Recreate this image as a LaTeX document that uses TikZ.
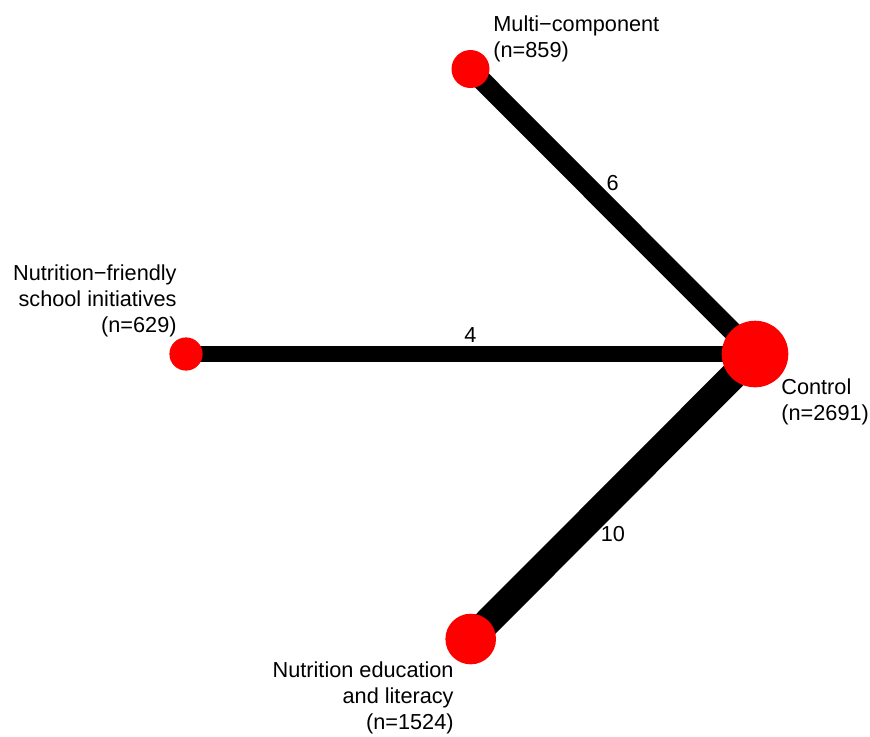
\documentclass[tikz,border=0pt]{standalone}
\usepackage{fontspec}
\setmainfont{Liberation Sans}
\usetikzlibrary{backgrounds}

\begin{document}
\begin{tikzpicture}[x=0.5pt,y=-0.5pt,
          trt/.style={circle,fill=red,inner sep=0pt},
          txt/.style={inner sep=0pt,font=\fontsize{10.85}{13}\selectfont},
          link/.style={line width=#1},
          num/.style={midway,inner sep=0pt,font=\fontsize{10.85}{13}\selectfont}]
        \useasboundingbox (0,0) rectangle (870,736);
        \node[trt,minimum size=19pt](mc) at (470.5,69){};
        \node[trt,minimum size=16.6pt](nf) at (186,354){};
        \node[trt,minimum size=33.3pt](ctl) at (755,354){};
        \node[trt,minimum size=25.3pt](ne) at (470.7,639){};
        % base anchor sits on the last line
        \node[txt,anchor=base west,align=left](mclab) at (493,57)
          {Multi−component\\(n=859)};
        \node[txt,anchor=base east,align=right](nflab) at (177,332.5)
          {Nutrition−friendly\\school initiatives\\(n=629)};
        \node[txt,anchor=base west,align=left](ctllab) at (781,420.5)
          {Control\\(n=2691)};
        \node[txt,anchor=base east,align=right](nelab) at (454,729)
          {Nutrition education\\and literacy\\(n=1524)};
        \begin{scope}[on background layer]
          \draw[link=9.75pt](mc.center)--(ctl.center)
            node[num,yshift=14pt]{6};
          \draw[link=7.75pt](nf.center)--(ctl.center)
            node[num,yshift=9.5pt]{4};
          \draw[link=13.75pt](ne.center)--(ctl.center)
            node[num,yshift=-19pt]{10};
        \end{scope}
      \end{tikzpicture}
\end{document}
